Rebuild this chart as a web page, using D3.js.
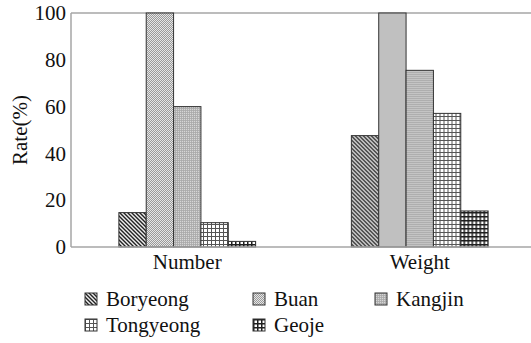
<!DOCTYPE html>
<html lang="en">
<head>
<meta charset="UTF-8">
<title>Rate by site</title>
<script src="https://cdn.jsdelivr.net/npm/d3@7"></script>
<style>
  body { margin: 0; background: #fff; }
</style>
</head>
<body>
<div id="chart"></div>
<script>
// data
var groups = ["Number", "Weight"];
var sites = ["Boryeong", "Buan", "Kangjin", "Tongyeong", "Geoje"];
var numberVals = [14.7, 100, 60, 10.4, 2.4];
var weightVals = [47.6, 100, 75.5, 57.1, 15.4];
var yTicks = [0, 20, 40, 60, 80, 100];

var w = 531, h = 343;
var plotL = 71, plotR = 536, plotT = 13, plotB = 247;
var serif = "font-family: 'Liberation Serif', 'DejaVu Serif', 'Noto Serif', serif";

var svg = d3.select("#chart").append("svg")
  .attr("width", w)
  .attr("height", h);

// fill patterns
var defs = svg.append("defs");

function pat(id, size, bg) {
  var p = defs.append("pattern")
    .attr("id", id)
    .attr("patternUnits", "userSpaceOnUse")
    .attr("width", size)
    .attr("height", size);
  p.append("rect").attr("width", size).attr("height", size).attr("fill", bg);
  return p;
}

// Boryeong: diagonal hatching
var p0 = pat("p-boryeong", 4, "#eeeeee");
p0.append("path").attr("d", "M-1,-1 L5,5 M-1,3 L1,5 M3,-1 L5,1")
  .attr("stroke", "#222").attr("stroke-width", 1.4);

// Buan: fine checker
var p1 = pat("p-buan", 2, "#e6e6e6");
p1.append("rect").attr("width", 1).attr("height", 1).attr("fill", "#9a9a9a");
p1.append("rect").attr("x", 1).attr("y", 1).attr("width", 1).attr("height", 1).attr("fill", "#9a9a9a");

// Kangjin: fine grey grid
var p2 = pat("p-kangjin", 2, "#d6d6d6");
p2.append("rect").attr("width", 2).attr("height", 0.8).attr("fill", "#a8a8a8");
p2.append("rect").attr("width", 0.8).attr("height", 2).attr("fill", "#a8a8a8");

// Tongyeong: open grid
var p3 = pat("p-tongyeong", 4, "#ffffff");
p3.append("path").attr("d", "M0,0.5 H4 M0.5,0 V4")
  .attr("stroke", "#555").attr("stroke-width", 1);

// Geoje: dark grid
var p4 = pat("p-geoje", 4, "#ffffff");
p4.append("path").attr("d", "M0,0.75 H4 M0.75,0 V4")
  .attr("stroke", "#1e1e1e").attr("stroke-width", 1.5);

var fills = ["url(#p-boryeong)", "url(#p-buan)", "url(#p-kangjin)", "url(#p-tongyeong)", "url(#p-geoje)"];

var x0 = d3.scaleBand()
  .domain(groups)
  .range([plotL, plotR]);

var x1 = d3.scaleBand()
  .domain(sites)
  .range([0, x0.bandwidth()])
  .paddingOuter(1.75);

var yScale = d3.scaleLinear()
  .domain([0, 100])
  .range([plotB, plotT]);

var color = d3.scaleOrdinal().domain(sites).range(fills);

var table = groups.map(function(g, i) {
  var vals = i == 0 ? numberVals : weightVals;
  return { group: g, values: sites.map(function(s, j) { return { site: s, value: vals[j] }; }) };
});

// frame lines
svg.append("line")
  .attr("x1", plotL).attr("x2", w).attr("y1", plotT).attr("y2", plotT)
  .attr("stroke", "#a6a6a6").attr("stroke-width", 1.5);
svg.append("line")
  .attr("x1", plotL).attr("x2", plotL).attr("y1", plotT).attr("y2", plotB)
  .attr("stroke", "#a6a6a6").attr("stroke-width", 1.5);

// bars
svg.selectAll(".grp")
  .data(table)
  .enter()
  .append("g")
  .attr("class", "grp")
  .attr("transform", function(d) { return "translate(" + x0(d.group) + ",0)"; })
  .selectAll("rect")
  .data(function(d) { return d.values; })
  .enter()
  .append("rect")
  .attr("x", function(d) { return x1(d.site); })
  .attr("y", function(d) { return yScale(d.value); })
  .attr("width", x1.bandwidth())
  .attr("height", function(d) { return plotB - yScale(d.value); })
  .attr("fill", function(d) { return color(d.site); })
  .attr("stroke", "#333")
  .attr("stroke-width", 1);

svg.append("line")
  .attr("x1", plotL).attr("x2", w).attr("y1", plotB).attr("y2", plotB)
  .attr("stroke", "#a6a6a6").attr("stroke-width", 1.5);

// y axis labels
var yAxis = svg.append("g")
  .attr("transform", "translate(" + plotL + ",0)")
  .call(d3.axisLeft(yScale).tickValues(yTicks).tickSize(0).tickPadding(5));
yAxis.select(".domain").remove();
yAxis.selectAll("text")
  .attr("style", serif)
  .attr("font-size", "21px")
  .attr("fill", "#111");

// x axis labels
var xAxis = svg.append("g")
  .attr("transform", "translate(0," + plotB + ")")
  .call(d3.axisBottom(x0).tickSize(0).tickPadding(7));
xAxis.select(".domain").remove();
xAxis.selectAll("text")
  .attr("style", serif)
  .attr("font-size", "21px")
  .attr("fill", "#111");

svg.append("text")
  .attr("style", serif)
  .attr("transform", "rotate(-90)")
  .attr("x", -(plotT + plotB) / 2)
  .attr("y", 27)
  .attr("text-anchor", "middle")
  .attr("font-size", "21px")
  .attr("fill", "#111")
  .text("Rate(%)");

// legend
var legX = [85, 253, 375];
var legend = svg.selectAll(".leg")
  .data(sites)
  .enter()
  .append("g")
  .attr("class", "leg")
  .attr("transform", function(d, i) {
    return "translate(" + legX[i % 3] + "," + (293 + Math.floor(i / 3) * 26) + ")";
  });

legend.append("rect")
  .attr("width", 12)
  .attr("height", 12)
  .attr("fill", function(d) { return color(d); })
  .attr("stroke", "#333")
  .attr("stroke-width", 1);

legend.append("text")
  .attr("style", serif)
  .attr("x", 21)
  .attr("y", 13)
  .attr("font-size", "21px")
  .attr("fill", "#111")
  .text(function(d) { return d; });
</script>
</body>
</html>
